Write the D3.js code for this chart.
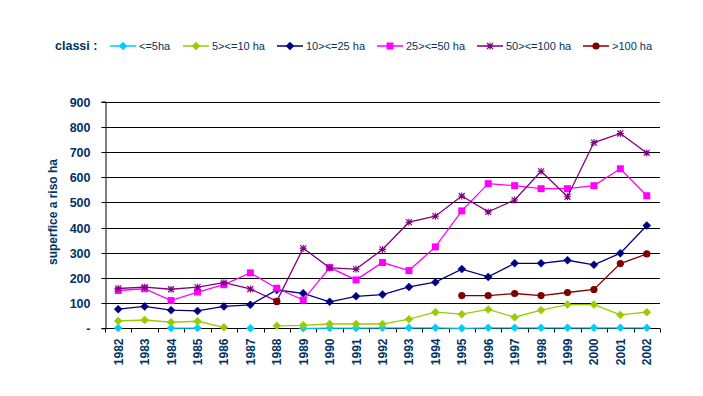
<!DOCTYPE html>
<html>
<head>
<meta charset="utf-8">
<script src="https://cdn.jsdelivr.net/npm/d3@7"></script>
<style>
  body { margin: 0; background: #fff; }
  text { font-family: Arial, "Liberation Sans", sans-serif; }
</style>
</head>
<body>
<div id="chart"></div>
<script>
// years on the x axis
var years = ["1982","1983","1984","1985","1986","1987","1988","1989","1990","1991","1992",
  "1993","1994","1995","1996","1997","1998","1999","2000","2001","2002"];
var yTicks = [0,100,200,300,400,500,600,700,800,900];

// one array per class, null = no value
var le5 =     [1,null,1,1,null,0,null,0,1,1,2,2,2,0,2,2,2,2,2,2,2];
var c5_10 =   [29,33,24,28,4,null,10,12,17,17,17,36,64,56,75,44,72,94,94,53,64];
var c10_25 =  [76,87,72,69,87,93,152,139,105,127,134,164,183,235,204,258,258,270,252,298,408];
var c25_50 =  [150,157,110,144,173,220,159,112,241,192,261,229,323,466,574,566,554,554,566,633,526];
var c50_100 = [158,163,155,163,181,156,108,318,240,235,313,421,445,525,462,509,623,522,737,773,696];
var gt100 =   [null,null,null,null,null,null,106,null,null,null,null,null,null,130,130,138,130,142,154,257,295];

var seriesNames = ["<=5ha","5><=10 ha","10><=25 ha","25><=50 ha","50><=100 ha",">100 ha"];
var series = [
  {name: seriesNames[0], values: le5, color: "#00ccff", mark: "diamond"},
  {name: seriesNames[1], values: c5_10, color: "#99cc00", mark: "diamond"},
  {name: seriesNames[2], values: c10_25, color: "#000080", mark: "diamond"},
  {name: seriesNames[3], values: c25_50, color: "#ff00ff", mark: "square"},
  {name: seriesNames[4], values: c50_100, color: "#800080", mark: "star"},
  {name: seriesNames[5], values: gt100, color: "#800000", mark: "circle"}
];

var W = 703, H = 396;
var textCol = "#003366";

var svg = d3.select("#chart").append("svg")
  .attr("width", W).attr("height", H);

var x = d3.scaleBand().domain(years).range([105, 660]).padding(0);
var y = d3.scaleLinear().domain([0, 900]).range([328.3, 101.5]);
var cx = function(i) { return x(years[i]) + x.bandwidth() / 2; };

// gridlines
svg.append("g").selectAll("line")
  .data(yTicks.filter(function(d) { return d > 0; }))
  .enter().append("line")
  .attr("x1", 105).attr("x2", 660)
  .attr("y1", function(d) { return Math.round(y(d)) + 0.5; })
  .attr("y2", function(d) { return Math.round(y(d)) + 0.5; })
  .attr("stroke", "#000").attr("stroke-width", 1);

// y axis
var yAxis = svg.append("g")
  .attr("transform", "translate(105.5,0)")
  .call(d3.axisLeft(y).tickValues(yTicks).tickSize(4).tickPadding(11)
    .tickFormat(function(d) { return d === 0 ? "-" : d; }));
yAxis.select(".domain").attr("stroke", "#000");
yAxis.selectAll(".tick line").attr("stroke", "#000");
yAxis.selectAll(".tick").attr("transform", function(d) { return "translate(0," + (Math.round(y(d)) + 0.5) + ")"; });
yAxis.selectAll("text")
  .style("font-size", "12.5px").style("font-weight", "bold").attr("fill", textCol);

// x axis
var xAxisY = Math.round(y(0)) + 0.5;
var xAxis = svg.append("g").attr("transform", "translate(0," + xAxisY + ")");
xAxis.append("line").attr("x1", 105).attr("x2", 660).attr("stroke", "#000");
xAxis.selectAll(".tk").data(years.concat(["end"])).enter().append("line")
  .attr("x1", function(d, i) { return Math.round(105 + i * x.bandwidth()) + 0.5; })
  .attr("x2", function(d, i) { return Math.round(105 + i * x.bandwidth()) + 0.5; })
  .attr("y1", 0).attr("y2", 4).attr("stroke", "#000");
xAxis.selectAll("text").data(years).enter().append("text")
  .attr("transform", function(d, i) { return "translate(" + (cx(i) + 4.5) + ",10) rotate(-90)"; })
  .attr("text-anchor", "end")
  .style("font-size", "12px").style("font-weight", "bold").attr("fill", textCol)
  .text(function(d) { return d; });

// y title
svg.append("text")
  .attr("transform", "translate(57,212) rotate(-90)")
  .attr("text-anchor", "middle")
  .style("font-size", "12px").style("font-weight", "bold").attr("fill", textCol)
  .text("superfice a riso ha");

function drawMark(g, type, color) {
  if (type === "diamond") {
    g.append("path").attr("d", "M0,-4L4,0L0,4L-4,0Z").attr("fill", color).attr("stroke", color).attr("stroke-width", 0.5);
  } else if (type === "square") {
    g.append("rect").attr("x", -3.5).attr("y", -3.5).attr("width", 7).attr("height", 7).attr("fill", color);
  } else if (type === "circle") {
    g.append("circle").attr("r", 3.6).attr("fill", color);
  } else {
    g.append("path").attr("d", "M-3,-3L3,3M-3,3L3,-3M0,-3.5L0,3.5M-3.5,0L3.5,0")
      .attr("stroke", color).attr("stroke-width", 1.1).attr("fill", "none");
  }
}

var line = d3.line()
  .defined(function(d) { return d != null; })
  .x(function(d, i) { return cx(i); })
  .y(function(d) { return y(d); });

series.forEach(function(s) {
  var g = svg.append("g");
  g.append("path").attr("d", line(s.values))
    .attr("fill", "none").attr("stroke", s.color).attr("stroke-width", 1.3);
  s.values.forEach(function(v, i) {
    if (v == null) return;
    drawMark(g.append("g").attr("transform", "translate(" + cx(i) + "," + y(v) + ")"), s.mark, s.color);
  });
});

// legend
svg.append("text").attr("x", 55).attr("y", 50)
  .style("font-size", "12.5px").style("font-weight", "bold").attr("fill", textCol)
  .text("classi :");
var legX = [110, 183, 277, 377, 477, 583];
series.forEach(function(s, i) {
  var g = svg.append("g").attr("transform", "translate(" + legX[i] + ",46)");
  g.append("line").attr("x1", 0).attr("x2", 26).attr("stroke", s.color).attr("stroke-width", 1.5);
  drawMark(g.append("g").attr("transform", "translate(13,0)"), s.mark, s.color);
  g.append("text").attr("x", 29).attr("y", 4)
    .style("font-size", "11px").attr("fill", textCol).text(s.name);
});
</script>
</body>
</html>
